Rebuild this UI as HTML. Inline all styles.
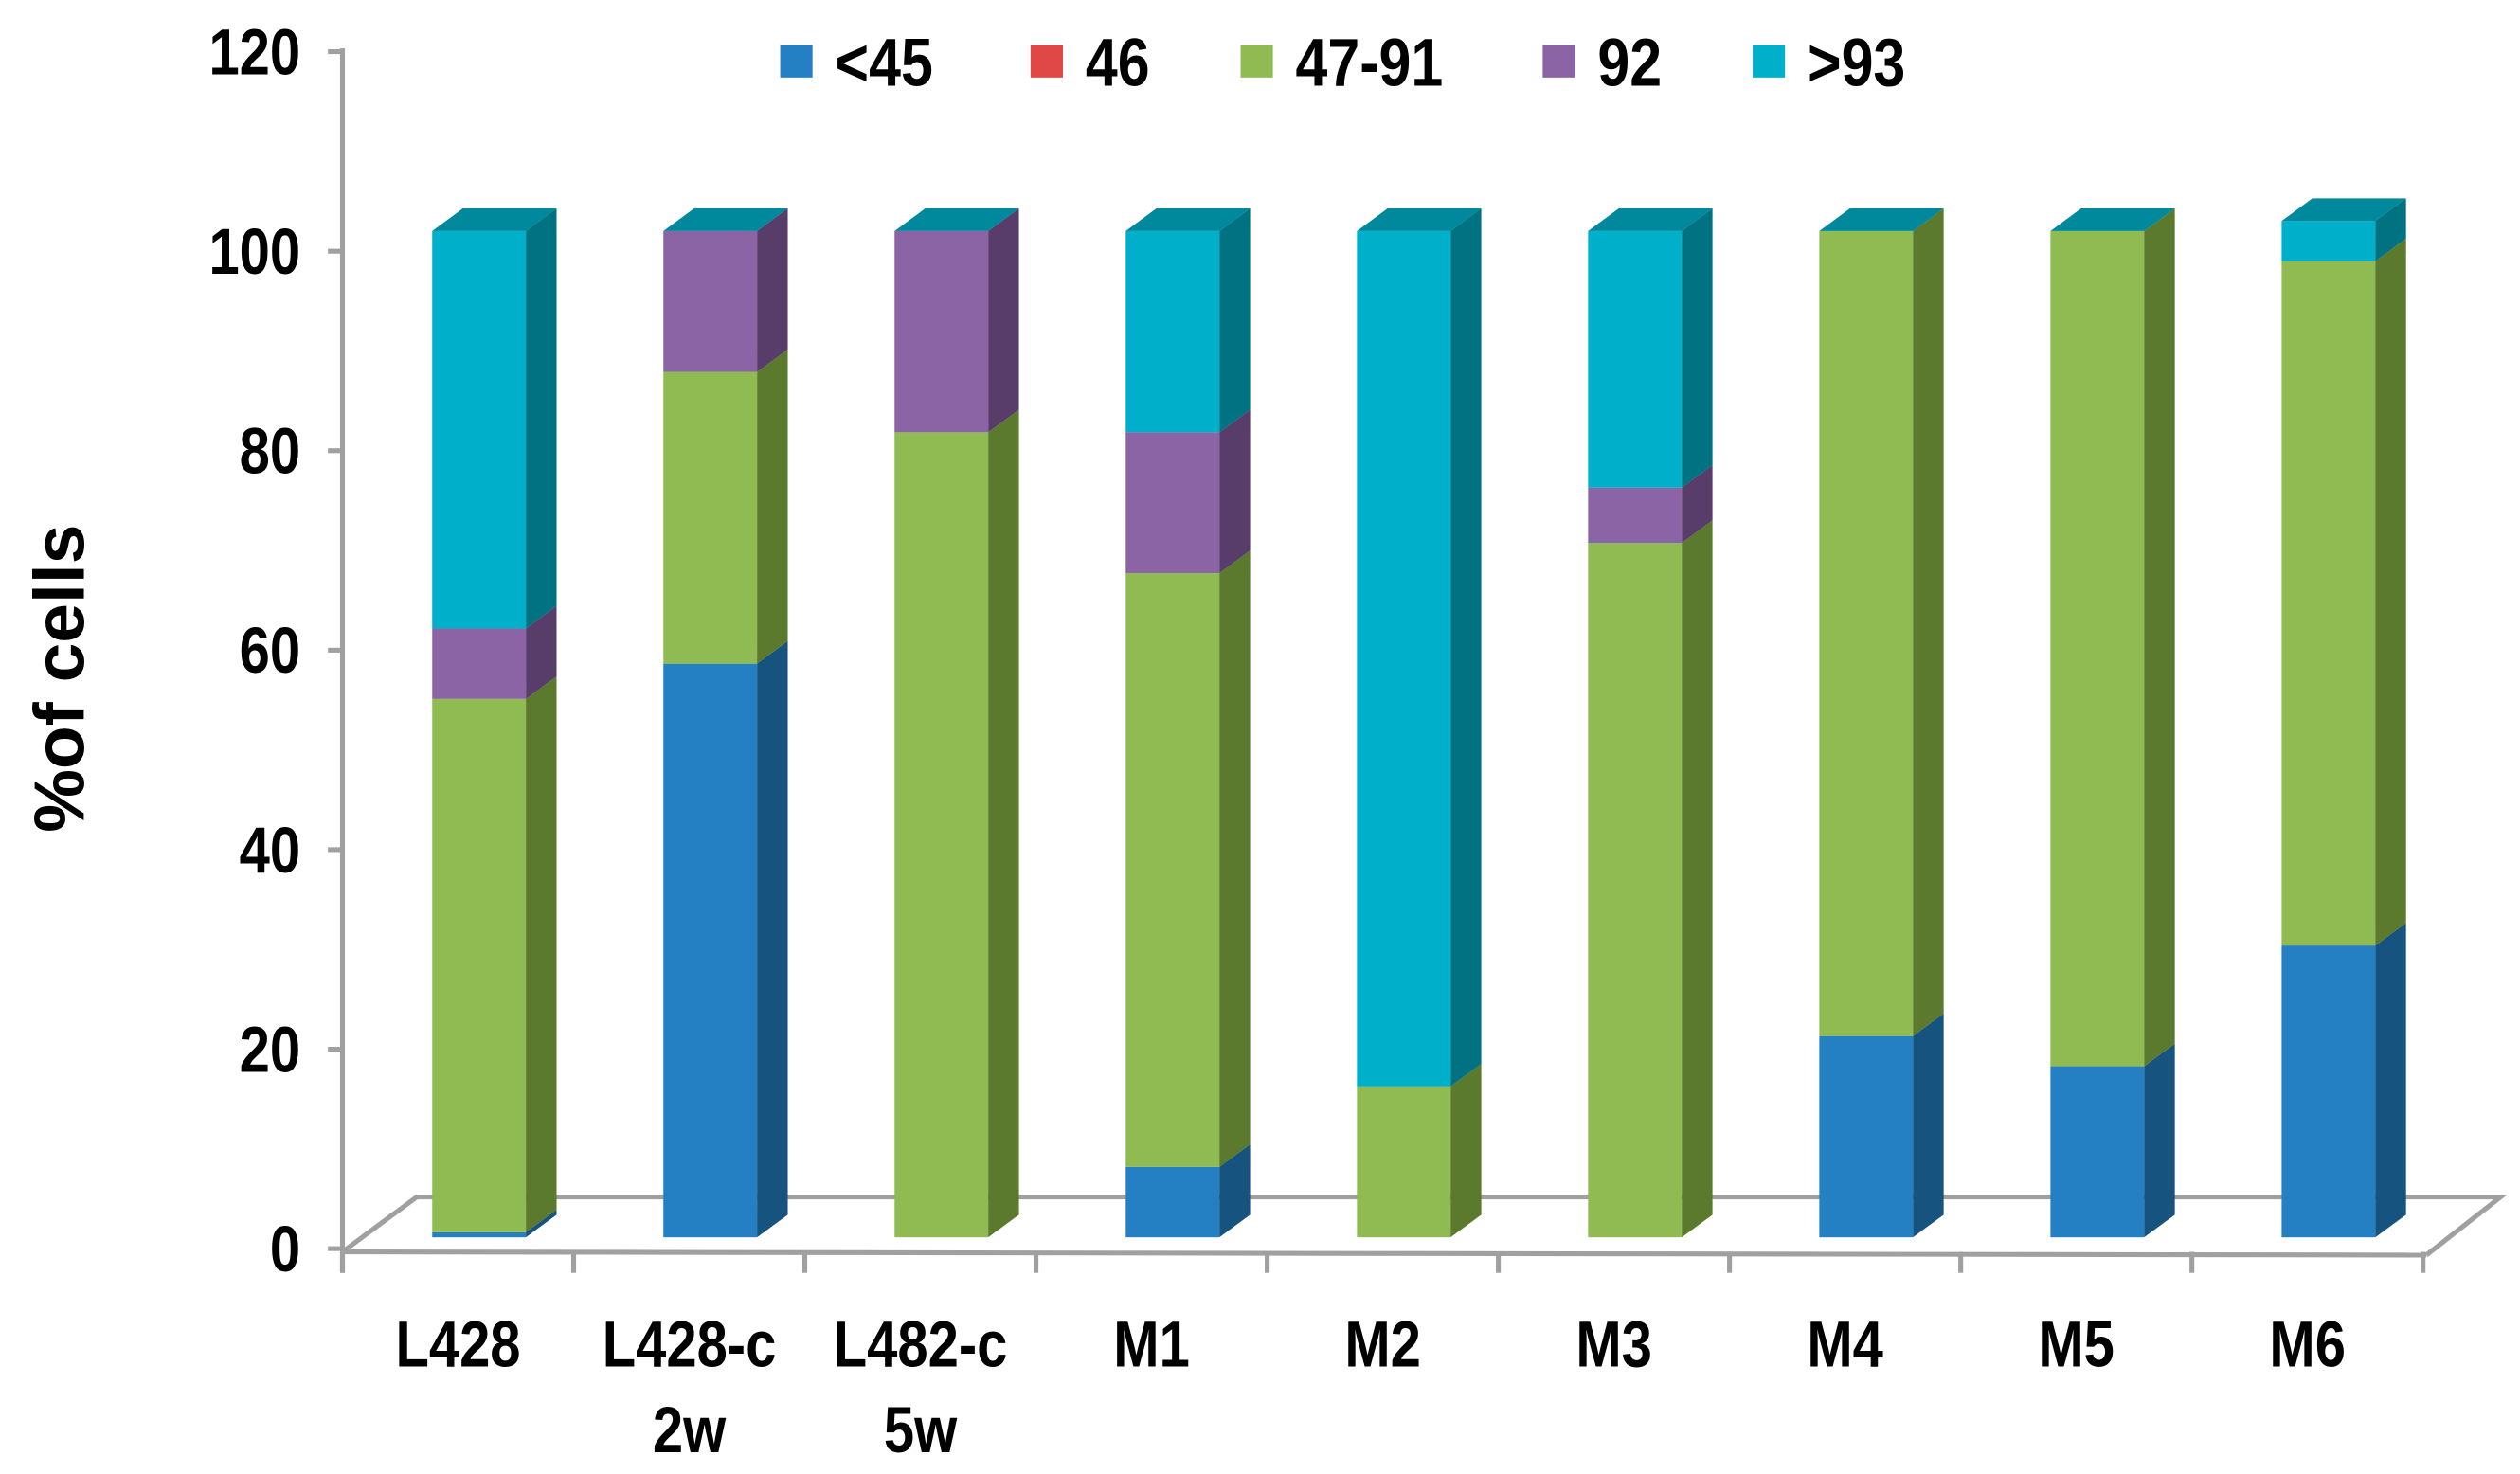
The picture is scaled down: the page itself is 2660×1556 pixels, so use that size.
<!DOCTYPE html>
<html><head><meta charset="utf-8"><style>
html,body{margin:0;padding:0;background:#fff;}
svg{display:block;}
text{font-family:"Liberation Sans Narrow","Liberation Sans",sans-serif;font-weight:bold;fill:#000;}
</style></head><body>
<svg id="chart" width="2660" height="1556" viewBox="0 0 1560 912.5" preserveAspectRatio="none" xmlns="http://www.w3.org/2000/svg">
<g id="axes"></g>
<g id="bars"></g>
<g id="legend"></g>
<text transform="translate(52,420) rotate(-90)" text-anchor="middle" style="font-family:'Liberation Sans',sans-serif;font-size:44px;">%of cells</text>
</svg>
<script>
const categories = ["L428", "L428-c|2w", "L482-c|5w", "M1", "M2", "M3", "M4", "M5", "M6"];
const seriesNames = ["<45", "46", "47-91", "92", ">93"];
const sLt45 = [0.5, 57, 0, 7, 0, 0, 20, 17, 29];
const s46 = [0, 0, 0, 0, 0, 0, 0, 0, 0];
const s47_91 = [53, 29, 80, 59, 15, 69, 80, 83, 68];
const s92 = [7, 14, 20, 14, 0, 5.5, 0, 0, 0];
const sGt93 = [39.5, 0, 0, 20, 85, 25.5, 0, 0, 4];
const yTicks = [0, 20, 40, 60, 80, 100, 120];

const series = [sLt45, s46, s47_91, s92, sGt93];
const front = ["#2580c3", "#e04848", "#8fbb52", "#8a64a4", "#00afc9"];
const side = ["#17537f", "#9a2e2e", "#5b7a2e", "#583d6b", "#007282"];
const topColor = "#00899c";
const NS = "http://www.w3.org/2000/svg";
function el(tag, attrs, parent) { const e = document.createElementNS(NS, tag); for (const k in attrs) e.setAttribute(k, attrs[k]); parent.appendChild(e); return e; }

const axX0 = 212, axX1 = 1500, axisY0 = 773, axisY120 = 32;
const yAxis = v => axisY0 - (axisY0 - axisY120) * v / 120;
const barBase = 766, barScale = 6.23;
const yBar = v => barBase - v * barScale;
const catW = (axX1 - axX0) / categories.length;
const xCat = i => axX0 + catW * (i + 0.5);
const bw = 58, dx = 19, dy = 14;

const axes = document.getElementById('axes');
const grey = "#a0a0a0";
let ln;
ln = el('line', {x1: axX0, y1: 30, x2: axX0, y2: 788, stroke: grey, 'stroke-width': 3}, axes);


yTicks.forEach(t => {
  const y = yAxis(t);
  const tk = el('line', {x1: axX0 - 9, y1: y, x2: axX0, y2: y, stroke: grey, 'stroke-width': 3}, axes);
  
  
  const tx = el('text', {x: 0, y: 0, 'text-anchor': 'end', 'font-size': 40, transform: `translate(186,${y + 14}) scale(0.85,1)`}, axes);
  tx.textContent = t;
  
  
});
const floor = el('polyline', {points: `${axX0},775 ${axX0 + 46},741 1548,741 1502,777`, fill: 'none', stroke: grey, 'stroke-width': 3}, axes);


ln = el('line', {x1: axX0, y1: 775, x2: 1502, y2: 777, stroke: grey, 'stroke-width': 3}, axes);


for (let i = 0; i <= categories.length; i++) {
  const x = axX0 + catW * i;
  const tk = el('line', {x1: x, y1: 775, x2: x, y2: 788, stroke: grey, 'stroke-width': 3}, axes);
  
  
}
categories.forEach((c, i) => {
  c.split('|').forEach((line, k) => {
    const tx = el('text', {x: 0, y: 0, 'text-anchor': 'middle', 'font-size': 40, transform: `translate(${xCat(i)},${846 + k * 53}) scale(0.85,1)`}, axes);
    tx.textContent = line;
    
    
  });
});

const bars = document.getElementById('bars');
categories.forEach((c, i) => {
  const g = el('g', {}, bars);
  
  
  const x0 = xCat(i) - bw / 2 + 13, x1 = x0 + bw;
  let cum = 0, topIdx = -1;
  series.forEach((s, k) => { if (s[i] > 0) topIdx = k; });
  series.forEach((s, k) => {
    const v = s[i];
    if (v <= 0) return;
    const yb = yBar(cum), yt = yBar(cum + v);
    cum += v;
    const f = el('rect', {x: x0, y: yt, width: bw, height: yb - yt, fill: front[k]}, g);
    
    
    const sd = el('polygon', {points: `${x1},${yb} ${x1 + dx},${yb - dy} ${x1 + dx},${yt - dy} ${x1},${yt}`, fill: side[k]}, g);
    
    
    if (k === topIdx) {
      const tp = el('polygon', {points: `${x0},${yt} ${x0 + dx},${yt - dy} ${x1 + dx},${yt - dy} ${x1},${yt}`, fill: topColor}, g);
      
      
    }
  });
});

const legend = document.getElementById('legend');
const legX = [483, 638, 768, 955, 1085];
seriesNames.forEach((n, k) => {
  const g = el('g', {}, legend);
  
  
  el('rect', {x: legX[k], y: 28, width: 20, height: 20, fill: front[k]}, g);
  const tx = el('text', {x: 0, y: 0, 'font-size': 42, transform: `translate(${legX[k] + 34},53) scale(0.85,1)`}, g);
  tx.textContent = n;
});
</script>
</body></html>
